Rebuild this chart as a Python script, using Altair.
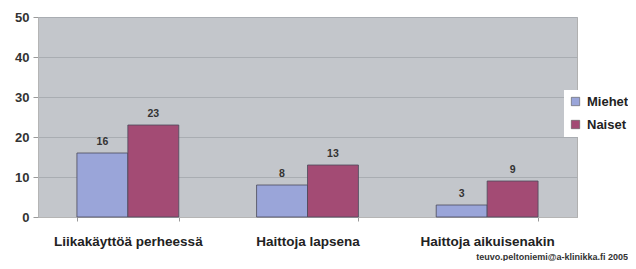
import altair as alt
import pandas as pd

categories = ["Liikakäyttöä perheessä", "Haittoja lapsena", "Haittoja aikuisenakin"]
series = ["Miehet", "Naiset"]
miehet = [16, 8, 3]
naiset = [23, 13, 9]
colors = ["#9AA5D9", "#A34B74"]
footer = "teuvo.peltoniemi@a-klinikka.fi 2005"

rows = []
for i, c in enumerate(categories):
    rows.append({"cat": c, "ser": series[0], "val": miehet[i]})
    rows.append({"cat": c, "ser": series[1], "val": naiset[i]})
df = pd.DataFrame(rows)

FONT = "Liberation Sans"

x = alt.X("cat:N", sort=categories, title=None,
          scale=alt.Scale(paddingInner=0.433, paddingOuter=0.2167),
          axis=alt.Axis(labelAngle=0, labelFont=FONT, labelFontSize=13.5, labelFontWeight="bold",
                        labelColor="#222222", labelPadding=13, tickBand="extent", tickSize=4,
                        tickColor="#9a9a9a", domainColor="#b5b5b5", grid=False))
xo = alt.XOffset("ser:N", sort=series, scale=alt.Scale(paddingInner=0, paddingOuter=0))
y = alt.Y("val:Q", title=None,
          scale=alt.Scale(domain=[0, 50], nice=False),
          axis=alt.Axis(values=[0, 10, 20, 30, 40, 50], labelFont=FONT, labelFontSize=13,
                        labelFontWeight="bold", labelColor="#333333", tickSize=5, labelPadding=4,
                        labelOverlap=False, labelFlush=False,
                        tickColor="#9a9a9a", domainColor="#b5b5b5", gridColor="#a9adb2"))

bars = alt.Chart(df).mark_bar(stroke="#4a4a5a", strokeWidth=0.8).encode(
    x=x, xOffset=xo, y=y,
    color=alt.Color("ser:N", sort=series, scale=alt.Scale(domain=series, range=colors),
                    legend=alt.Legend(title=None, orient="none", legendX=526, legendY=73,
                                      fillColor="white", padding=5, symbolType="square",
                                      symbolSize=70, symbolStrokeColor="#555555", symbolStrokeWidth=0.6,
                                      labelFont=FONT, labelFontSize=13, labelFontWeight="bold",
                                      labelColor="#222222", rowPadding=9, symbolOffset=0,
                                      labelOffset=5))
)

labels = alt.Chart(df).mark_text(dy=-11, font=FONT, fontSize=10.5, fontWeight="bold", color="#333333").encode(
    x=x, xOffset=xo, y=y, text="val:Q"
)

foot = alt.Chart(pd.DataFrame({"t": [footer]})).mark_text(
    align="right", baseline="middle", font=FONT, fontSize=9, fontWeight="bold", color="#333333"
).encode(x=alt.value(590), y=alt.value(240), text="t:N")

chart = alt.layer(bars, labels, foot).properties(
    width=539, height=200,
    padding={"left": 30, "top": 9, "right": 51, "bottom": 44},
    autosize=alt.AutoSizeParams(type="none"),
    background="white",
).configure_view(fill="#C3C6CB", stroke="#b0b0b0")

chart.save("out.html", embed_options={"renderer": "svg", "actions": False})
